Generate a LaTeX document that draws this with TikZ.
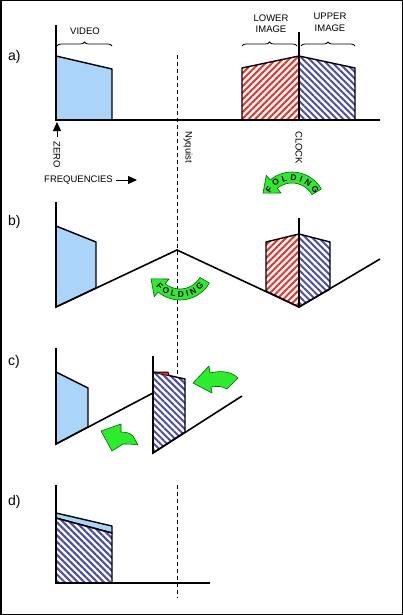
\documentclass[tikz,border=0pt]{standalone}
\usepackage{fontspec}
\setmainfont{Liberation Sans}
\usetikzlibrary{positioning,arrows.meta,patterns.meta,decorations.pathreplacing,decorations.text}

\definecolor{videoblue}{RGB}{170,212,250}
\definecolor{hatchred}{RGB}{235,45,35}
\definecolor{hatchblue}{RGB}{75,75,170}
\definecolor{foldgreen}{RGB}{45,235,45}

\tikzset{
  axis/.style={line width=1.6pt},
  outline/.style={draw=black, line width=1.4pt, line join=round},
  video/.style={outline, fill=videoblue},
  lowerimg/.style={outline, pattern={Lines[angle=45,distance=4.6pt,line width=2pt]}, pattern color=hatchred},
  upperimg/.style={outline, pattern={Lines[angle=-45,distance=4.6pt,line width=2pt]}, pattern color=hatchblue},
  nyq/.style={dash pattern=on 4pt off 3pt, line width=0.9pt},
  bracket/.style={decorate, decoration={brace, amplitude=4pt}, line width=0.8pt},
  lbl/.style={font=\fontsize{9.5}{11.5}\selectfont, inner sep=0pt},
  part/.style={font=\fontsize{14}{14}\selectfont, inner sep=0pt, anchor=west},
  bent/.style={fill=foldgreen, draw=black!60!green, line width=0.6pt, line join=round},
  foldtext/.style={decorate, decoration={text along path, text={|\bfseries\fontsize{8.5}{8.5}\selectfont|FOLDING}, text align={fit to path}}},
  tip/.style={-{Triangle[length=9pt,width=8pt]}, line width=1pt}
}

\newcommand{\foldarrow}{\draw[bent] (30:34) arc (30:130:34) -- (130:40) -- (-29.0,12.8) -- (130:17) -- (130:23) arc (130:30:23) -- cycle;}

\begin{document}
\begin{tikzpicture}[x=1pt, y=-1pt]
  \useasboundingbox (0,0) rectangle (403,615);
  \draw[line width=1.5pt] (0.75,0.75) rectangle (402.25,614.25);

  \draw[nyq] (177,55) -- (177,377);
  \draw[nyq] (177,485) -- (177,598);

  \node[part] (la) at (8,57) {a)};
  \draw[video] (56,120) -- (56,56) -- (112,69) -- (112,120) -- cycle;
  \draw[lowerimg] (242,120) -- (242,68) -- (299,56) -- (299,120) -- cycle;
  \draw[upperimg] (299,120) -- (299,56) -- (355,68) -- (355,120) -- cycle;
  \draw[axis] (56,25) -- (56,120) -- (380,120);
  \draw[axis] (299,32) -- (299,120);
  \draw[bracket] (57,46) -- (112,46);
  \draw[bracket] (242,46) -- (297,46);
  \draw[bracket] (301,46) -- (355,46);
  \node[lbl] (video) at (85,31) {VIDEO};
  \node[lbl, align=center] (lower) at (271,23.5) {LOWER\\IMAGE};
  \node[lbl, align=center] (upper) at (330,22.5) {UPPER\\IMAGE};
  \node[lbl, rotate=-90, anchor=west] (zero) at (57,141) {ZERO};
  \node[lbl, rotate=-90, anchor=west] (nyquist) at (188,131) {Nyquist};
  \node[lbl, rotate=-90, anchor=west] (clock) at (299,131) {CLOCK};
  \node[lbl, anchor=west] (freq) at (44,180) {FREQUENCIES};
  \coordinate (zerotip) at (57,122);
  \coordinate (freqtip) at (137,180);
  \draw[tip, shorten <=4pt] (zero.west) -- (zerotip);
  \draw[tip, shorten <=3pt] (freq.east) -- (freqtip);
  \begin{scope}[shift={(292,206)}, yscale=-1]
    \foldarrow
  \end{scope}
  \path[foldtext] (292,206) ++(-150:25.5) arc (-150:-28:25.5);

  \node[part] (lb) at (8,222) {b)};
  \draw[video] (56,307) -- (56,226) -- (96,242) -- (96,288) -- cycle;
  \draw[lowerimg] (266,291) -- (266,242) -- (299,234) -- (299,307) -- cycle;
  \draw[upperimg] (299,307) -- (299,234) -- (330,242) -- (330,289) -- cycle;
  \draw[axis] (56,202) -- (56,307) -- (177,250) -- (299,307) -- (380,259);
  \draw[axis] (299,218) -- (299,307);
  \begin{scope}[shift={(180,266)}]
    \foldarrow
  \end{scope}
  \path[foldtext] (180,266) ++(140:31.5) arc (140:40:31.5);

  \node[part] (lc) at (8,362) {c)};
  \draw[video] (56,444) -- (56,372) -- (88,388) -- (88,427) -- cycle;
  \draw[axis] (56,348) -- (56,444) -- (153,393);
  \draw[upperimg] (153,453) -- (153,372) -- (185,379) -- (185,432) -- cycle;
  \fill[hatchred] (153,372) -- (168,372) -- (169,375.5) -- cycle;
  \draw[line width=1pt] (153,372) -- (168,372) -- (169,375.5);
  \draw[axis] (153,356) -- (153,453) -- (242,396);
  \draw[bent] (193,383) -- (209,366) -- (210,373) .. controls (222,370) and (232,372) .. (238,378) -- (227,389) .. controls (222,386) and (217,386) .. (211,387) -- (212,393) -- cycle;
  \draw[bent] (101,431) -- (121,424) -- (121,432) .. controls (126,432) and (130,433) .. (133,436) -- (138,445) .. controls (133,444) and (128,444) .. (123,444) -- (112,451) -- cycle;

  \node[part] (ld) at (8,502) {d)};
  \draw[video] (56,518) -- (56,513) -- (112,526) -- (112,533) -- cycle;
  \draw[upperimg] (56,583) -- (56,518) -- (112,533) -- (112,583) -- cycle;
  \draw[axis] (56,485) -- (56,583) -- (210,583);
\end{tikzpicture}
\end{document}
